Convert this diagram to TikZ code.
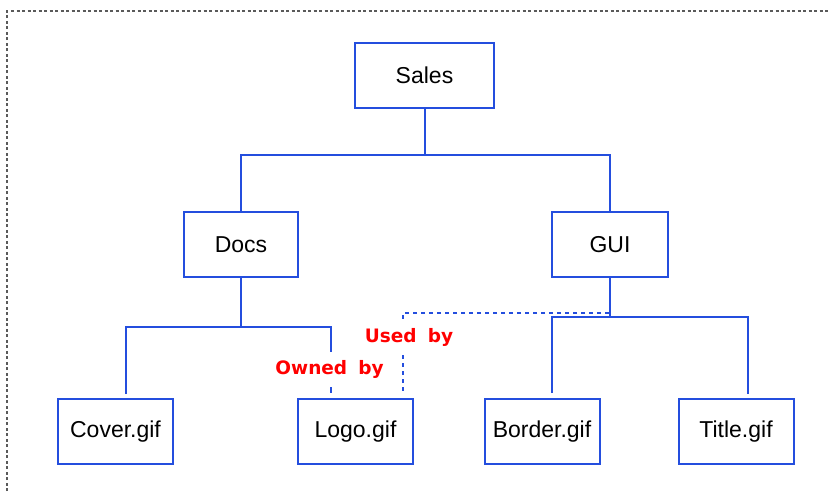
\documentclass[tikz,border=0pt]{standalone}
\usepackage{fontspec}
\setmainfont{Liberation Sans}
\newfontfamily\tagfont{DejaVu Sans}
\usetikzlibrary{calc}
\definecolor{linkblue}{RGB}{36,78,222}
\definecolor{tagred}{RGB}{255,0,0}
\definecolor{framegray}{RGB}{90,90,90}

\begin{document}
\begin{tikzpicture}[x=1pt,y=-1pt,
  box/.style={draw=linkblue,line width=2pt,rectangle,fill=white,
    minimum width=#1,minimum height=65pt,inner sep=0pt,
    font=\fontsize{23}{28}\selectfont},
  box/.default=115pt,
  link/.style={draw=linkblue,line width=2pt},
  uselink/.style={draw=linkblue,line width=2pt,dash pattern=on 4pt off 4pt},
  tag/.style={text=tagred,fill=white,inner xsep=1pt,inner ysep=8pt,
    font=\tagfont\bfseries\fontsize{18.5}{22}\selectfont},
  frame/.style={draw=framegray,line width=1.2pt,dash pattern=on 3pt off 2.5pt}]

\useasboundingbox (0,0) rectangle (829,491);

% outer dashed frame
\draw[frame] (7,491) -- (7,11) -- (829,11);

% boxes
\node[box=139pt] (sales)  at (424.5,75)  {Sales};
\node[box=114pt] (docs)   at (241,244.5) {Docs};
\node[box=116pt] (gui)    at (610,244.5) {GUI};
\node[box] (cover)  at (115.5,431.5) {Cover.gif};
\node[box] (logo)   at (355.5,431.5) {Logo.gif};
\node[box] (border) at (542,431.5)   {Border.gif};
\node[box] (title)  at (736,431.5)   {Title.gif};

% Sales branch
\draw[link] (sales.south) -- ++(0,46) coordinate (salesbus);
\draw[link] (docs.north) |- (salesbus) -| (gui.north);

% Docs branch
\draw[link] (docs.south) -- ++(0,49) coordinate (docsbus);
\draw[link] ($(cover.north west)+(69,-4)$) |- (docsbus)
            -| ($(logo.north west)+(34,-5)$);

% GUI branch
\draw[link] (gui.south) -- ++(0,39) coordinate (guibus);
\draw[link] ($(border.north west)+(68,-5)$) |- (guibus)
            -| ($(title.north west)+(70,-4)$);

% shared use of the logo
\draw[uselink] ($(gui.south)+(-1,35)$) -| ($(logo.north east)+(-11,-5)$);

% relation labels
\node[tag] (owned) at (329.5,369.5) {Owned\hspace{0.25em} by};
\node[tag] (used)  at (409,337)   {Used\hspace{0.25em} by};
\end{tikzpicture}
\end{document}
